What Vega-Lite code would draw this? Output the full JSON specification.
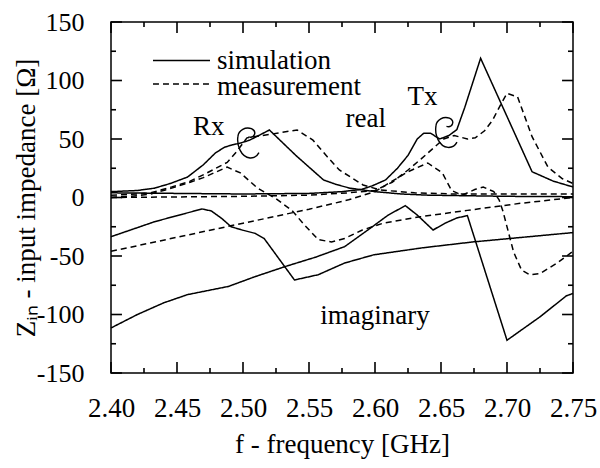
{
  "$schema": "https://vega.github.io/schema/vega-lite/v6.json",
  "width": 462,
  "height": 351,
  "autosize": {"type": "none"},
  "padding": {"left": 111, "top": 22, "right": 27, "bottom": 95},
  "background": "white",
  "config": {
    "view": {"stroke": "#000", "strokeWidth": 1.5},
    "font": "Liberation Serif",
    "axis": {
      "labelFont": "Liberation Serif", "labelFontSize": 26, "labelColor": "#000",
      "titleFont": "Liberation Serif", "titleFontSize": 27, "titleFontWeight": "normal", "titleColor": "#000",
      "ticks": false, "domain": false, "grid": false
    }
  },
  "datasets": {
    "curves": [
      {"s":"RRS","t":"simulation","f":2.40,"z":5},{"s":"RRS","t":"simulation","f":2.42,"z":6},{"s":"RRS","t":"simulation","f":2.433,"z":8},{"s":"RRS","t":"simulation","f":2.445,"z":12},{"s":"RRS","t":"simulation","f":2.458,"z":17.5},{"s":"RRS","t":"simulation","f":2.47,"z":28},{"s":"RRS","t":"simulation","f":2.479,"z":38},{"s":"RRS","t":"simulation","f":2.486,"z":43},{"s":"RRS","t":"simulation","f":2.492,"z":45},{"s":"RRS","t":"simulation","f":2.498,"z":46.5},{"s":"RRS","t":"simulation","f":2.505,"z":49},{"s":"RRS","t":"simulation","f":2.512,"z":53},{"s":"RRS","t":"simulation","f":2.52,"z":57.7},{"s":"RRS","t":"simulation","f":2.54,"z":36},{"s":"RRS","t":"simulation","f":2.561,"z":15},{"s":"RRS","t":"simulation","f":2.571,"z":11},{"s":"RRS","t":"simulation","f":2.581,"z":8},{"s":"RRS","t":"simulation","f":2.60,"z":5},{"s":"RRS","t":"simulation","f":2.62,"z":3},{"s":"RRS","t":"simulation","f":2.64,"z":2},{"s":"RRS","t":"simulation","f":2.70,"z":1},{"s":"RRS","t":"simulation","f":2.75,"z":0.7},
      {"s":"RRM","t":"measurement","f":2.40,"z":2},{"s":"RRM","t":"measurement","f":2.42,"z":3},{"s":"RRM","t":"measurement","f":2.43,"z":4},{"s":"RRM","t":"measurement","f":2.446,"z":9},{"s":"RRM","t":"measurement","f":2.46,"z":14},{"s":"RRM","t":"measurement","f":2.471,"z":20},{"s":"RRM","t":"measurement","f":2.488,"z":30},{"s":"RRM","t":"measurement","f":2.495,"z":39},{"s":"RRM","t":"measurement","f":2.503,"z":51},{"s":"RRM","t":"measurement","f":2.515,"z":53},{"s":"RRM","t":"measurement","f":2.528,"z":55.4},{"s":"RRM","t":"measurement","f":2.541,"z":57.7},{"s":"RRM","t":"measurement","f":2.553,"z":49},{"s":"RRM","t":"measurement","f":2.564,"z":34.6},{"s":"RRM","t":"measurement","f":2.573,"z":23.5},{"s":"RRM","t":"measurement","f":2.591,"z":10.7},{"s":"RRM","t":"measurement","f":2.604,"z":6.4},{"s":"RRM","t":"measurement","f":2.63,"z":4},{"s":"RRM","t":"measurement","f":2.66,"z":3},{"s":"RRM","t":"measurement","f":2.75,"z":3},
      {"s":"RIM","t":"measurement","f":2.40,"z":0},{"s":"RIM","t":"measurement","f":2.42,"z":1.5},{"s":"RIM","t":"measurement","f":2.43,"z":3},{"s":"RIM","t":"measurement","f":2.446,"z":8},{"s":"RIM","t":"measurement","f":2.46,"z":13},{"s":"RIM","t":"measurement","f":2.47,"z":17},{"s":"RIM","t":"measurement","f":2.48,"z":22},{"s":"RIM","t":"measurement","f":2.488,"z":26},{"s":"RIM","t":"measurement","f":2.498,"z":21},{"s":"RIM","t":"measurement","f":2.511,"z":8},{"s":"RIM","t":"measurement","f":2.525,"z":-1},{"s":"RIM","t":"measurement","f":2.537,"z":-11},{"s":"RIM","t":"measurement","f":2.547,"z":-24},{"s":"RIM","t":"measurement","f":2.557,"z":-36},{"s":"RIM","t":"measurement","f":2.567,"z":-38},{"s":"RIM","t":"measurement","f":2.577,"z":-35},{"s":"RIM","t":"measurement","f":2.59,"z":-28},{"s":"RIM","t":"measurement","f":2.606,"z":-22},{"s":"RIM","t":"measurement","f":2.634,"z":-16.5},{"s":"RIM","t":"measurement","f":2.67,"z":-11},{"s":"RIM","t":"measurement","f":2.71,"z":-5},{"s":"RIM","t":"measurement","f":2.75,"z":0},
      {"s":"RIS","t":"simulation","f":2.40,"z":-33.5},{"s":"RIS","t":"simulation","f":2.433,"z":-20.7},{"s":"RIS","t":"simulation","f":2.455,"z":-14},{"s":"RIS","t":"simulation","f":2.469,"z":-9.8},{"s":"RIS","t":"simulation","f":2.476,"z":-11.5},{"s":"RIS","t":"simulation","f":2.484,"z":-18},{"s":"RIS","t":"simulation","f":2.491,"z":-25},{"s":"RIS","t":"simulation","f":2.50,"z":-28},{"s":"RIS","t":"simulation","f":2.509,"z":-30.6},{"s":"RIS","t":"simulation","f":2.516,"z":-35},{"s":"RIS","t":"simulation","f":2.539,"z":-70.5},{"s":"RIS","t":"simulation","f":2.557,"z":-66},{"s":"RIS","t":"simulation","f":2.577,"z":-56},{"s":"RIS","t":"simulation","f":2.599,"z":-49},{"s":"RIS","t":"simulation","f":2.636,"z":-43},{"s":"RIS","t":"simulation","f":2.674,"z":-38},{"s":"RIS","t":"simulation","f":2.75,"z":-30},
      {"s":"TIS","t":"simulation","f":2.40,"z":-111.5},{"s":"TIS","t":"simulation","f":2.42,"z":-100},{"s":"TIS","t":"simulation","f":2.44,"z":-90},{"s":"TIS","t":"simulation","f":2.458,"z":-83},{"s":"TIS","t":"simulation","f":2.489,"z":-76},{"s":"TIS","t":"simulation","f":2.509,"z":-67.7},{"s":"TIS","t":"simulation","f":2.532,"z":-59},{"s":"TIS","t":"simulation","f":2.555,"z":-51},{"s":"TIS","t":"simulation","f":2.577,"z":-42},{"s":"TIS","t":"simulation","f":2.598,"z":-25},{"s":"TIS","t":"simulation","f":2.61,"z":-15},{"s":"TIS","t":"simulation","f":2.623,"z":-7},{"s":"TIS","t":"simulation","f":2.632,"z":-15},{"s":"TIS","t":"simulation","f":2.644,"z":-27.8},{"s":"TIS","t":"simulation","f":2.653,"z":-22},{"s":"TIS","t":"simulation","f":2.662,"z":-17.5},{"s":"TIS","t":"simulation","f":2.67,"z":-15.5},{"s":"TIS","t":"simulation","f":2.70,"z":-122},{"s":"TIS","t":"simulation","f":2.725,"z":-102},{"s":"TIS","t":"simulation","f":2.745,"z":-84},{"s":"TIS","t":"simulation","f":2.75,"z":-82},
      {"s":"TRS","t":"simulation","f":2.40,"z":4},{"s":"TRS","t":"simulation","f":2.45,"z":3.5},{"s":"TRS","t":"simulation","f":2.50,"z":3},{"s":"TRS","t":"simulation","f":2.55,"z":3.5},{"s":"TRS","t":"simulation","f":2.575,"z":5},{"s":"TRS","t":"simulation","f":2.59,"z":7},{"s":"TRS","t":"simulation","f":2.598,"z":10},{"s":"TRS","t":"simulation","f":2.608,"z":15},{"s":"TRS","t":"simulation","f":2.617,"z":25},{"s":"TRS","t":"simulation","f":2.625,"z":36},{"s":"TRS","t":"simulation","f":2.632,"z":50},{"s":"TRS","t":"simulation","f":2.637,"z":55},{"s":"TRS","t":"simulation","f":2.642,"z":55},{"s":"TRS","t":"simulation","f":2.649,"z":50},{"s":"TRS","t":"simulation","f":2.656,"z":53},{"s":"TRS","t":"simulation","f":2.662,"z":58},{"s":"TRS","t":"simulation","f":2.668,"z":77},{"s":"TRS","t":"simulation","f":2.68,"z":119},{"s":"TRS","t":"simulation","f":2.719,"z":22},{"s":"TRS","t":"simulation","f":2.735,"z":14},{"s":"TRS","t":"simulation","f":2.75,"z":9},
      {"s":"TRM","t":"measurement","f":2.40,"z":0},{"s":"TRM","t":"measurement","f":2.45,"z":0.5},{"s":"TRM","t":"measurement","f":2.50,"z":1},{"s":"TRM","t":"measurement","f":2.55,"z":2},{"s":"TRM","t":"measurement","f":2.58,"z":4},{"s":"TRM","t":"measurement","f":2.60,"z":6},{"s":"TRM","t":"measurement","f":2.613,"z":13},{"s":"TRM","t":"measurement","f":2.625,"z":23.5},{"s":"TRM","t":"measurement","f":2.635,"z":33},{"s":"TRM","t":"measurement","f":2.645,"z":43},{"s":"TRM","t":"measurement","f":2.652,"z":50},{"s":"TRM","t":"measurement","f":2.66,"z":53},{"s":"TRM","t":"measurement","f":2.67,"z":50},{"s":"TRM","t":"measurement","f":2.676,"z":51},{"s":"TRM","t":"measurement","f":2.683,"z":57},{"s":"TRM","t":"measurement","f":2.689,"z":66},{"s":"TRM","t":"measurement","f":2.696,"z":81},{"s":"TRM","t":"measurement","f":2.70,"z":89},{"s":"TRM","t":"measurement","f":2.708,"z":86},{"s":"TRM","t":"measurement","f":2.719,"z":52},{"s":"TRM","t":"measurement","f":2.731,"z":26},{"s":"TRM","t":"measurement","f":2.742,"z":16},{"s":"TRM","t":"measurement","f":2.75,"z":12},
      {"s":"TIM","t":"measurement","f":2.40,"z":-46},{"s":"TIM","t":"measurement","f":2.45,"z":-34},{"s":"TIM","t":"measurement","f":2.50,"z":-22},{"s":"TIM","t":"measurement","f":2.55,"z":-10},{"s":"TIM","t":"measurement","f":2.58,"z":-2},{"s":"TIM","t":"measurement","f":2.60,"z":5},{"s":"TIM","t":"measurement","f":2.613,"z":14},{"s":"TIM","t":"measurement","f":2.625,"z":22},{"s":"TIM","t":"measurement","f":2.64,"z":29.5},{"s":"TIM","t":"measurement","f":2.651,"z":21},{"s":"TIM","t":"measurement","f":2.658,"z":6},{"s":"TIM","t":"measurement","f":2.666,"z":2},{"s":"TIM","t":"measurement","f":2.676,"z":7},{"s":"TIM","t":"measurement","f":2.682,"z":9},{"s":"TIM","t":"measurement","f":2.69,"z":5},{"s":"TIM","t":"measurement","f":2.694,"z":-2},{"s":"TIM","t":"measurement","f":2.697,"z":-12},{"s":"TIM","t":"measurement","f":2.705,"z":-46.6},{"s":"TIM","t":"measurement","f":2.711,"z":-62},{"s":"TIM","t":"measurement","f":2.717,"z":-66},{"s":"TIM","t":"measurement","f":2.725,"z":-65},{"s":"TIM","t":"measurement","f":2.738,"z":-56},{"s":"TIM","t":"measurement","f":2.75,"z":-46}
    ],
    "xticks": [
      {"v":2.4,"k":"major"},{"v":2.425,"k":"minor"},{"v":2.45,"k":"major"},{"v":2.475,"k":"minor"},{"v":2.5,"k":"major"},{"v":2.525,"k":"minor"},{"v":2.55,"k":"major"},{"v":2.575,"k":"minor"},{"v":2.6,"k":"major"},{"v":2.625,"k":"minor"},{"v":2.65,"k":"major"},{"v":2.675,"k":"minor"},{"v":2.7,"k":"major"},{"v":2.725,"k":"minor"},{"v":2.75,"k":"major"}
    ],
    "yticks": [
      {"v":-150,"k":"major"},{"v":-125,"k":"minor"},{"v":-100,"k":"major"},{"v":-75,"k":"minor"},{"v":-50,"k":"major"},{"v":-25,"k":"minor"},{"v":0,"k":"major"},{"v":25,"k":"minor"},{"v":50,"k":"major"},{"v":75,"k":"minor"},{"v":100,"k":"major"},{"v":125,"k":"minor"},{"v":150,"k":"major"}
    ],
    "legend": [
      {"t":"simulation","f1":2.4318,"f2":2.475,"ft":2.4803,"zl":117,"zt":117},
      {"t":"measurement","f1":2.4318,"f2":2.475,"ft":2.4803,"zl":97,"zt":94.5}
    ],
    "labels": [
      {"text":"Rx","f":2.474,"z":60},
      {"text":"Tx","f":2.636,"z":86},
      {"text":"real","f":2.593,"z":67},
      {"text":"imaginary","f":2.60,"z":-101}
    ],
    "loops": [
      {"f":2.503,"z":46},
      {"f":2.653,"z":55}
    ]
  },
  "layer": [
    {
      "data": {"name": "curves"},
      "mark": {"type": "line", "strokeWidth": 1.5, "color": "#000"},
      "encoding": {
        "x": {"field": "f", "type": "quantitative",
              "scale": {"domain": [2.4, 2.75], "nice": false, "zero": false},
              "axis": {"orient": "bottom", "title": "f - frequency [GHz]", "titlePadding": 10,
                       "values": [2.4,2.45,2.5,2.55,2.6,2.65,2.7,2.75],
                       "format": ".2f", "labelFontSize": 27,
                       "labelPadding": 22, "labelFlush": false, "labelOverlap": false}},
        "y": {"field": "z", "type": "quantitative",
              "scale": {"domain": [-150, 150], "nice": false},
              "axis": {"orient": "left", "title": "Zᵢₙ - input impedance [Ω]", "titlePadding": -4,
                       "values": [-150,-100,-50,0,50,100,150],
                       "labelExpr": "'' + datum.value",
                       "labelPadding": 27, "labelOverlap": false}},
        "detail": {"field": "s"},
        "strokeDash": {"field": "t", "type": "nominal",
                       "scale": {"domain": ["simulation", "measurement"], "range": [[1, 0], [6, 4]]},
                       "legend": null}
      }
    },
    {
      "data": {"name": "legend"},
      "mark": {"type": "rule", "strokeWidth": 1.5, "color": "#000"},
      "encoding": {
        "x": {"field": "f1", "type": "quantitative"},
        "x2": {"field": "f2"},
        "y": {"field": "zl", "type": "quantitative"},
        "strokeDash": {"field": "t", "type": "nominal", "legend": null}
      }
    },
    {
      "data": {"name": "legend"},
      "mark": {"type": "text", "font": "Liberation Serif", "fontSize": 27, "color": "#000", "align": "left", "baseline": "middle"},
      "encoding": {
        "x": {"field": "ft", "type": "quantitative"},
        "y": {"field": "zt", "type": "quantitative"},
        "text": {"field": "t"}
      }
    },
    {
      "data": {"name": "labels"},
      "mark": {"type": "text", "font": "Liberation Serif", "fontSize": 27, "color": "#000", "align": "center", "baseline": "middle"},
      "encoding": {
        "x": {"field": "f", "type": "quantitative"},
        "y": {"field": "z", "type": "quantitative"},
        "text": {"field": "text"}
      }
    },
    {
      "data": {"name": "loops"},
      "mark": {"type": "point", "filled": false, "stroke": "#000", "strokeWidth": 1.4, "opacity": 1, "size": 900,
               "shape": "M 0.1,-0.45 C 0.5,-0.35 0.7,-0.8 0.3,-1 C -0.1,-1.15 -0.55,-0.9 -0.6,-0.5 C -0.7,0.1 -0.4,0.9 0.2,0.95 C 0.5,0.97 0.7,0.8 0.8,0.6"},
      "encoding": {
        "x": {"field": "f", "type": "quantitative"},
        "y": {"field": "z", "type": "quantitative"}
      }
    },
    {
      "data": {"name": "xticks"},
      "transform": [{"filter": "datum.k == 'major'"}],
      "mark": {"type": "rule", "color": "#000", "strokeWidth": 1.6, "opacity": 1},
      "encoding": {"x": {"field": "v", "type": "quantitative"}, "y": {"datum": -150, "type": "quantitative"}, "y2": {"datum": -140.6}}
    },
    {
      "data": {"name": "xticks"},
      "transform": [{"filter": "datum.k == 'major'"}],
      "mark": {"type": "rule", "color": "#000", "strokeWidth": 1.6, "opacity": 1},
      "encoding": {"x": {"field": "v", "type": "quantitative"}, "y": {"datum": 150, "type": "quantitative"}, "y2": {"datum": 140.6}}
    },
    {
      "data": {"name": "xticks"},
      "transform": [{"filter": "datum.k == 'minor'"}],
      "mark": {"type": "rule", "color": "#000", "strokeWidth": 1.6, "opacity": 1},
      "encoding": {"x": {"field": "v", "type": "quantitative"}, "y": {"datum": -150, "type": "quantitative"}, "y2": {"datum": -145.7}}
    },
    {
      "data": {"name": "xticks"},
      "transform": [{"filter": "datum.k == 'minor'"}],
      "mark": {"type": "rule", "color": "#000", "strokeWidth": 1.6, "opacity": 1},
      "encoding": {"x": {"field": "v", "type": "quantitative"}, "y": {"datum": 150, "type": "quantitative"}, "y2": {"datum": 145.7}}
    },
    {
      "data": {"name": "yticks"},
      "transform": [{"filter": "datum.k == 'major'"}],
      "mark": {"type": "rule", "color": "#000", "strokeWidth": 1.6, "opacity": 1},
      "encoding": {"y": {"field": "v", "type": "quantitative"}, "x": {"datum": 2.4, "type": "quantitative"}, "x2": {"datum": 2.4083}}
    },
    {
      "data": {"name": "yticks"},
      "transform": [{"filter": "datum.k == 'major'"}],
      "mark": {"type": "rule", "color": "#000", "strokeWidth": 1.6, "opacity": 1},
      "encoding": {"y": {"field": "v", "type": "quantitative"}, "x": {"datum": 2.75, "type": "quantitative"}, "x2": {"datum": 2.7417}}
    },
    {
      "data": {"name": "yticks"},
      "transform": [{"filter": "datum.k == 'minor'"}],
      "mark": {"type": "rule", "color": "#000", "strokeWidth": 1.6, "opacity": 1},
      "encoding": {"y": {"field": "v", "type": "quantitative"}, "x": {"datum": 2.4, "type": "quantitative"}, "x2": {"datum": 2.4038}}
    },
    {
      "data": {"name": "yticks"},
      "transform": [{"filter": "datum.k == 'minor'"}],
      "mark": {"type": "rule", "color": "#000", "strokeWidth": 1.6, "opacity": 1},
      "encoding": {"y": {"field": "v", "type": "quantitative"}, "x": {"datum": 2.75, "type": "quantitative"}, "x2": {"datum": 2.7462}}
    }
  ]
}
